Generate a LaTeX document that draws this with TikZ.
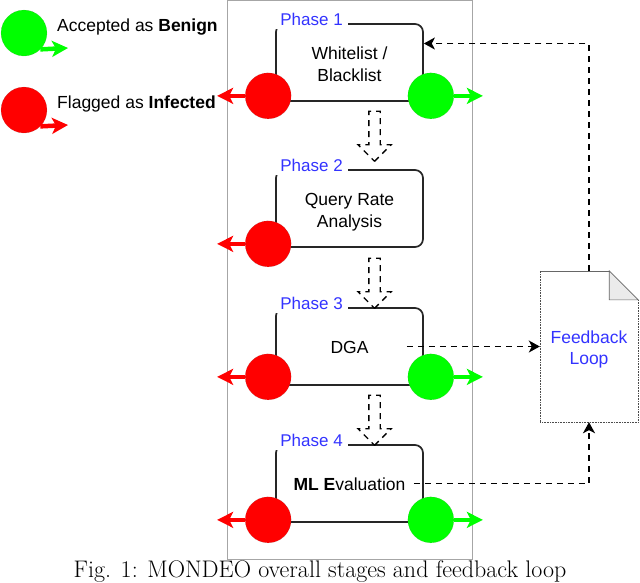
\documentclass[tikz,border=0pt]{standalone}
\usepackage{fontspec}
\setsansfont{Liberation Sans}
\usetikzlibrary{shapes.arrows, arrows.meta}
\definecolor{phaseblue}{RGB}{51,51,255}
\definecolor{goodgreen}{RGB}{0,255,0}
\tikzstyle{frame} = [rectangle, draw=black!35, line width=1pt, minimum width=245pt, minimum height=559pt]
\tikzstyle{process} = [rectangle, rounded corners=8pt, minimum width=147pt, minimum height=77pt, align=center, draw=black!85, line width=1.7pt, font=\sffamily\fontsize{17.5}{22}\selectfont]
\tikzstyle{phase_label} = [fill=white, inner xsep=5pt, inner ysep=3pt, text=phaseblue, font=\sffamily\fontsize{17}{17}\selectfont]
\tikzstyle{legend_text} = [anchor=west, inner sep=0pt, font=\sffamily\fontsize{17.5}{20}\selectfont]
\tikzstyle{good_ball} = [circle, minimum size=46pt, inner sep=0pt, fill=goodgreen, draw=black!60, densely dotted, line width=.3pt]
\tikzstyle{bad_ball} = [circle, minimum size=46pt, inner sep=0pt, fill=red, draw=black!60, densely dotted, line width=.3pt]
\tikzstyle{good_arrow} = [goodgreen, line width=4.5pt, -{Stealth[length=16pt,width=16pt,inset=4pt]}]
\tikzstyle{bad_arrow} = [red, line width=4.5pt, -{Stealth[length=16pt,width=16pt,inset=4pt]}]
\tikzstyle{flow} = [single arrow, rotate=-90, minimum height=50pt, text height=10pt, text depth=0pt, text width=0pt, single arrow head extend=11pt, inner sep=0pt, draw=black, line width=1.3pt, dash pattern=on 6pt off 5pt]
\tikzstyle{feedback_doc} = [rectangle, minimum width=98pt, minimum height=151pt, align=center, text=phaseblue, font=\sffamily\fontsize{17.5}{21}\selectfont]
\tikzstyle{arrow} = [line width=1.5pt, dash pattern=on 6pt off 5pt, -{Stealth[length=11pt,width=12pt,inset=3pt]}]

\begin{document}
\begin{tikzpicture}[node distance=146pt]
	\useasboundingbox (0pt,0pt) rectangle (640pt,-582pt);
	\node (frame) [frame] at (349.5pt,-279.5pt) {};

	\node (box1) [process] at (349.5pt,-62.5pt) {\rule{0pt}{16pt}Whitelist /\\Blacklist};
	\node (box2) [process, below of=box1] {\rule{0pt}{20pt}Query Rate\\Analysis};
	\node (box3) [process, below of=box2, node distance=138pt] {\rule{0pt}{15pt}DGA};
	\node (box4) [process, below of=box3, node distance=137pt] {\rule{0pt}{15pt}\textbf{ML E}valuation};

	\node (phase1) [phase_label, anchor=south west] at ([yshift=-6pt]box1.north west) {Phase 1};
	\node (phase2) [phase_label, anchor=south west] at ([yshift=-6pt]box2.north west) {Phase 2};
	\node (phase3) [phase_label, anchor=south west] at ([yshift=-6pt]box3.north west) {Phase 3};
	\node (phase4) [phase_label, anchor=south west] at ([yshift=-6pt]box4.north west) {Phase 4};

	\node (flow1) [flow] at ([xshift=25pt,yshift=-71pt]box1.center) {};
	\node (flow2) [flow] at ([xshift=25pt,yshift=-72pt]box2.center) {};
	\node (flow3) [flow] at ([xshift=25pt,yshift=-71pt]box3.center) {};

	\node (bad1) [bad_ball] at ([xshift=-7pt,yshift=6pt]box1.south west) {};
	\node (bad2) [bad_ball] at ([xshift=-7pt,yshift=4pt]box2.south west) {};
	\node (bad3) [bad_ball] at ([xshift=-7pt,yshift=9pt]box3.south west) {};
	\node (bad4) [bad_ball] at ([xshift=-7pt,yshift=3pt]box4.south west) {};
	\node (good1) [good_ball] at ([xshift=7pt,yshift=6pt]box1.south east) {};
	\node (good3) [good_ball] at ([xshift=7pt,yshift=9pt]box3.south east) {};
	\node (good4) [good_ball] at ([xshift=7pt,yshift=3pt]box4.south east) {};

	\coordinate (out_bad1) at ([xshift=-51pt]bad1.center);
	\coordinate (out_bad2) at ([xshift=-51pt]bad2.center);
	\coordinate (out_bad3) at ([xshift=-51pt]bad3.center);
	\coordinate (out_bad4) at ([xshift=-51pt]bad4.center);
	\coordinate (out_good1) at ([xshift=52pt]good1.center);
	\coordinate (out_good3) at ([xshift=52pt]good3.center);
	\coordinate (out_good4) at ([xshift=52pt]good4.center);
	\draw [bad_arrow] (bad1) -- (out_bad1);
	\draw [bad_arrow] (bad2) -- (out_bad2);
	\draw [bad_arrow] (bad3) -- (out_bad3);
	\draw [bad_arrow] (bad4) -- (out_bad4);
	\draw [good_arrow] (good1) -- (out_good1);
	\draw [good_arrow] (good3) -- (out_good3);
	\draw [good_arrow] (good4) -- (out_good4);

	\node (legend_good) [good_ball] at (24pt,-33pt) {};
	\node (legend_bad) [bad_ball] at (24pt,-110pt) {};
	\node (text_good) [legend_text] at (57pt,-27pt) {Accepted as \textbf{Benign}};
	\node (text_bad) [legend_text] at (57pt,-104pt) {Flagged as \textbf{Infected}};
	\coordinate (out_legend_good) at (68pt,-48pt);
	\coordinate (out_legend_bad) at (68pt,-125pt);
	\draw [good_arrow] (legend_good.south east) -- (out_legend_good);
	\draw [bad_arrow] (legend_bad.south east) -- (out_legend_bad);

	\node (feedback) [feedback_doc] at (589pt,-346.5pt) {\rule{0pt}{18pt}Feedback\\Loop};
	\coordinate (fold_top) at ([xshift=-29pt]feedback.north east);
	\coordinate (fold_side) at ([yshift=-29pt]feedback.north east);
	\coordinate (fold_in) at ([xshift=-29pt,yshift=-29pt]feedback.north east);
	\draw [black!60, line width=.6pt] (feedback.north west) -- (fold_top);
	\draw [black!70, densely dotted, line width=.6pt] (feedback.north west) -- (feedback.south west) -- (feedback.south east) -- (fold_side);
	\draw [black!60, fill=black!8, line width=.6pt] (fold_top) -- (fold_side) -- (fold_in) -- cycle;

	\draw [arrow] (feedback.north) |- ([yshift=19pt]box1.east);
	\draw [arrow] ([xshift=-17pt]box3.east) -- (feedback.west);
	\draw [arrow] ([xshift=-10pt]box4.east) -| (feedback.south);

	\node (caption) at (320pt,-572pt) {\fontsize{24}{28}\selectfont Fig. 1: MONDEO overall stages and feedback loop};
\end{tikzpicture}
\end{document}
